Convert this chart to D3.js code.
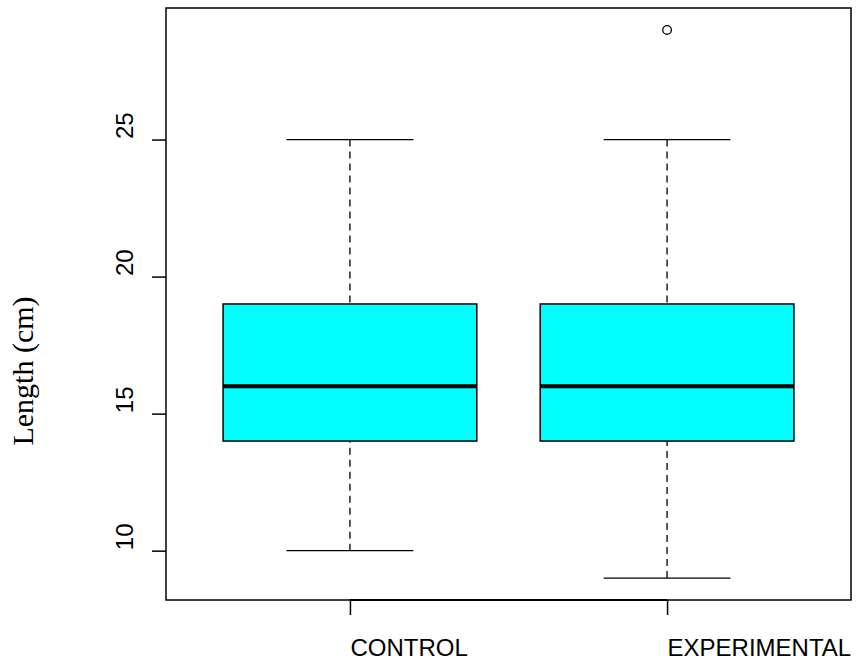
<!DOCTYPE html>
<html>
<head>
<meta charset="utf-8">
<script src="https://cdn.jsdelivr.net/npm/d3@7"></script>
<style>
  html, body { margin: 0; padding: 0; background: #fff; }
  svg { display: block; }
</style>
</head>
<body>
<div id="chart"></div>
<script>
const categories = ["CONTROL", "EXPERIMENTAL"];
const whiskerLow = [10, 9];
const q1 = [14, 14];
const medians = [16, 16];
const q3 = [19, 19];
const whiskerHigh = [25, 25];
const outliers = [[], [29]];
const yTicks = [10, 15, 20, 25];
const yLabel = "Length (cm)";

const W = 860, H = 664;
const plot = { left: 166, right: 851, top: 8, bottom: 600 };

const svg = d3.select("#chart").append("svg")
  .attr("width", W).attr("height", H)
  .style("background", "#fff");

const x = d3.scaleLinear().domain([0.42, 2.58]).range([plot.left, plot.right]);
const y = d3.scaleLinear().domain([8.2, 29.8]).range([plot.bottom, plot.top]);

const boxW = 0.8, capW = 0.4;

const g = svg.append("g");

categories.forEach((c, i) => {
  const pos = i + 1;
  // whiskers (dashed)
  g.append("line")
    .attr("x1", x(pos)).attr("x2", x(pos))
    .attr("y1", y(whiskerLow[i])).attr("y2", y(q1[i]))
    .attr("stroke", "#000").attr("stroke-width", 1.3)
    .attr("stroke-dasharray", "7,5");
  g.append("line")
    .attr("x1", x(pos)).attr("x2", x(pos))
    .attr("y1", y(whiskerHigh[i])).attr("y2", y(q3[i]))
    .attr("stroke", "#000").attr("stroke-width", 1.3)
    .attr("stroke-dasharray", "7,5");
  // caps
  [whiskerLow[i], whiskerHigh[i]].forEach(v => {
    g.append("line")
      .attr("x1", x(pos - capW / 2)).attr("x2", x(pos + capW / 2))
      .attr("y1", y(v)).attr("y2", y(v))
      .attr("stroke", "#000").attr("stroke-width", 1.3);
  });
  // box
  g.append("rect")
    .attr("x", x(pos - boxW / 2))
    .attr("y", y(q3[i]))
    .attr("width", x(pos + boxW / 2) - x(pos - boxW / 2))
    .attr("height", y(q1[i]) - y(q3[i]))
    .attr("fill", "#00ffff")
    .attr("stroke", "#000").attr("stroke-width", 1.5);
  // median
  g.append("line")
    .attr("x1", x(pos - boxW / 2)).attr("x2", x(pos + boxW / 2))
    .attr("y1", y(medians[i])).attr("y2", y(medians[i]))
    .attr("stroke", "#000").attr("stroke-width", 4);
  // outliers
  outliers[i].forEach(v => {
    g.append("circle")
      .attr("cx", x(pos)).attr("cy", y(v)).attr("r", 4.3)
      .attr("fill", "none").attr("stroke", "#000").attr("stroke-width", 1.3);
  });
});

// plot frame
svg.append("rect")
  .attr("x", plot.left).attr("y", plot.top)
  .attr("width", plot.right - plot.left).attr("height", plot.bottom - plot.top)
  .attr("fill", "none").attr("stroke", "#000").attr("stroke-width", 1.5);

// y axis
const yAxis = svg.append("g")
  .attr("transform", `translate(${plot.left},0)`)
  .call(d3.axisLeft(y).tickValues(yTicks).tickSize(14).tickSizeOuter(0).tickFormat(d3.format("d")));
yAxis.select(".domain").remove();
yAxis.selectAll(".tick line").attr("stroke", "#000").attr("stroke-width", 1.5);
yAxis.selectAll(".tick text")
  .attr("x", null).attr("dy", null)
  .attr("transform", "translate(-33,-1) rotate(-90)")
  .attr("text-anchor", "start")
  .attr("fill", "#000")
  .style("font-family", "Liberation Sans, Arial, sans-serif")
  .style("font-size", "24px");

// x axis
const xAxis = svg.append("g")
  .attr("transform", `translate(0,${plot.bottom})`)
  .call(d3.axisBottom(x).tickValues([1, 2]).tickSize(15).tickSizeOuter(0)
    .tickFormat(d => categories[d - 1]));
xAxis.select(".domain")
  .attr("d", `M${x(1)},0H${x(2)}`)
  .attr("stroke", "#000").attr("stroke-width", 2);
xAxis.selectAll(".tick line").attr("stroke", "#000").attr("stroke-width", 1.5);
xAxis.selectAll(".tick text")
  .attr("y", 56).attr("dy", null).attr("x", 0)
  .attr("text-anchor", "start")
  .attr("fill", "#000")
  .style("font-family", "Liberation Sans, Arial, sans-serif")
  .style("font-size", "24px");

// y label
svg.append("text")
  .attr("transform", `translate(33,371) rotate(-90)`)
  .attr("text-anchor", "middle")
  .style("font-family", "Liberation Serif, Times New Roman, serif")
  .style("font-size", "30px")
  .attr("fill", "#000")
  .text(yLabel);
</script>
</body>
</html>
